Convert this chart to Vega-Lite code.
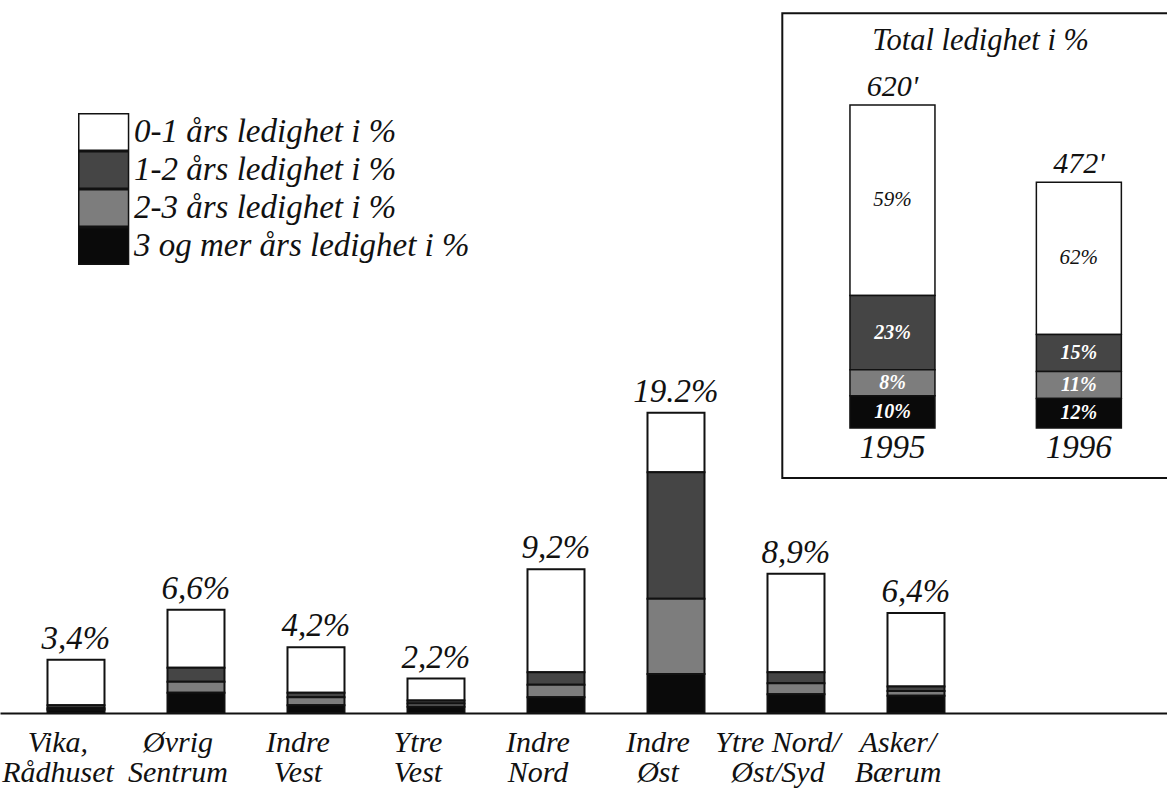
{
  "$schema": "https://vega.github.io/schema/vega-lite/v6.json",
  "autosize": {"type": "none"},
  "width": 1167,
  "height": 713,
  "padding": {"left": 0, "top": 0, "right": 0, "bottom": 86},
  "background": "white",
  "config": {
    "view": {"stroke": null},
    "font": "Liberation Serif",
    "text": {"font": "Liberation Serif", "fontStyle": "italic", "color": "#111"}
  },
  "datasets": {
    "hoved": [
      {"omrade": "Vika,|Rådhuset", "kategori": "0-1 års ledighet i %", "verdi": 2.9},
      {"omrade": "Vika,|Rådhuset", "kategori": "1-2 års ledighet i %", "verdi": 0.2},
      {"omrade": "Vika,|Rådhuset", "kategori": "2-3 års ledighet i %", "verdi": 0.1},
      {"omrade": "Vika,|Rådhuset", "kategori": "3 og mer års ledighet i %", "verdi": 0.2},
      {"omrade": "Øvrig|Sentrum", "kategori": "0-1 års ledighet i %", "verdi": 3.7},
      {"omrade": "Øvrig|Sentrum", "kategori": "1-2 års ledighet i %", "verdi": 0.9},
      {"omrade": "Øvrig|Sentrum", "kategori": "2-3 års ledighet i %", "verdi": 0.7},
      {"omrade": "Øvrig|Sentrum", "kategori": "3 og mer års ledighet i %", "verdi": 1.3},
      {"omrade": "Indre|Vest", "kategori": "0-1 års ledighet i %", "verdi": 2.9},
      {"omrade": "Indre|Vest", "kategori": "1-2 års ledighet i %", "verdi": 0.3},
      {"omrade": "Indre|Vest", "kategori": "2-3 års ledighet i %", "verdi": 0.5},
      {"omrade": "Indre|Vest", "kategori": "3 og mer års ledighet i %", "verdi": 0.5},
      {"omrade": "Ytre|Vest", "kategori": "0-1 års ledighet i %", "verdi": 1.4},
      {"omrade": "Ytre|Vest", "kategori": "1-2 års ledighet i %", "verdi": 0.2},
      {"omrade": "Ytre|Vest", "kategori": "2-3 års ledighet i %", "verdi": 0.2},
      {"omrade": "Ytre|Vest", "kategori": "3 og mer års ledighet i %", "verdi": 0.4},
      {"omrade": "Indre|Nord", "kategori": "0-1 års ledighet i %", "verdi": 6.6},
      {"omrade": "Indre|Nord", "kategori": "1-2 års ledighet i %", "verdi": 0.8},
      {"omrade": "Indre|Nord", "kategori": "2-3 års ledighet i %", "verdi": 0.8},
      {"omrade": "Indre|Nord", "kategori": "3 og mer års ledighet i %", "verdi": 1.0},
      {"omrade": "Indre|Øst", "kategori": "0-1 års ledighet i %", "verdi": 3.8},
      {"omrade": "Indre|Øst", "kategori": "1-2 års ledighet i %", "verdi": 8.1},
      {"omrade": "Indre|Øst", "kategori": "2-3 års ledighet i %", "verdi": 4.8},
      {"omrade": "Indre|Øst", "kategori": "3 og mer års ledighet i %", "verdi": 2.5},
      {"omrade": "Ytre Nord/|Øst/Syd", "kategori": "0-1 års ledighet i %", "verdi": 6.3},
      {"omrade": "Ytre Nord/|Øst/Syd", "kategori": "1-2 års ledighet i %", "verdi": 0.7},
      {"omrade": "Ytre Nord/|Øst/Syd", "kategori": "2-3 års ledighet i %", "verdi": 0.7},
      {"omrade": "Ytre Nord/|Øst/Syd", "kategori": "3 og mer års ledighet i %", "verdi": 1.2},
      {"omrade": "Asker/|Bærum", "kategori": "0-1 års ledighet i %", "verdi": 4.7},
      {"omrade": "Asker/|Bærum", "kategori": "1-2 års ledighet i %", "verdi": 0.3},
      {"omrade": "Asker/|Bærum", "kategori": "2-3 års ledighet i %", "verdi": 0.3},
      {"omrade": "Asker/|Bærum", "kategori": "3 og mer års ledighet i %", "verdi": 1.1}
    ],
    "totaler": [
      {"omrade": "Vika,|Rådhuset", "total": 3.4, "etikett": "3,4%"},
      {"omrade": "Øvrig|Sentrum", "total": 6.6, "etikett": "6,6%"},
      {"omrade": "Indre|Vest", "total": 4.2, "etikett": "4,2%"},
      {"omrade": "Ytre|Vest", "total": 2.2, "etikett": "2,2%"},
      {"omrade": "Indre|Nord", "total": 9.2, "etikett": "9,2%"},
      {"omrade": "Indre|Øst", "total": 19.2, "etikett": "19.2%"},
      {"omrade": "Ytre Nord/|Øst/Syd", "total": 8.9, "etikett": "8,9%"},
      {"omrade": "Asker/|Bærum", "total": 6.4, "etikett": "6,4%"}
    ],
    "innfelt": [
      {"aar": 1995, "kategori": "0-1 års ledighet i %", "andel": "59%", "antall": 365.8},
      {"aar": 1995, "kategori": "1-2 års ledighet i %", "andel": "23%", "antall": 142.6},
      {"aar": 1995, "kategori": "2-3 års ledighet i %", "andel": "8%", "antall": 49.6},
      {"aar": 1995, "kategori": "3 og mer års ledighet i %", "andel": "10%", "antall": 62.0},
      {"aar": 1996, "kategori": "0-1 års ledighet i %", "andel": "62%", "antall": 292.6},
      {"aar": 1996, "kategori": "1-2 års ledighet i %", "andel": "15%", "antall": 70.8},
      {"aar": 1996, "kategori": "2-3 års ledighet i %", "andel": "11%", "antall": 51.9},
      {"aar": 1996, "kategori": "3 og mer års ledighet i %", "andel": "12%", "antall": 56.6}
    ],
    "innfelt_tot": [
      {"aar": 1995, "total": 620, "etikett": "620'"},
      {"aar": 1996, "total": 472, "etikett": "472'"}
    ]
  },
  "layer": [
    {
      "layer": [
        {
          "data": {"name": "hoved"},
          "mark": {"type": "bar", "width": 57, "stroke": "#111", "strokeWidth": 2},
          "encoding": {
            "x": {
              "field": "omrade", "type": "nominal",
              "scale": {
                "domain": ["Vika,|Rådhuset", "Øvrig|Sentrum", "Indre|Vest", "Ytre|Vest", "Indre|Nord", "Indre|Øst", "Ytre Nord/|Øst/Syd", "Asker/|Bærum"],
                "paddingInner": 0.275, "paddingOuter": 1, "align": 0.1354
              },
              "axis": {
                "title": null, "labelAngle": 0, "ticks": false, "grid": false,
                "domain": true, "domainColor": "#111", "domainWidth": 2,
                "labelExpr": "split(datum.label, '|')",
                "labelFont": "Liberation Serif", "labelFontStyle": "italic", "labelFontSize": 30,
                "labelLineHeight": 30, "labelColor": "#111", "labelPadding": 14,
                "labelOffset": -18, "labelLimit": 0, "labelOverlap": false, "labelBound": false, "labelFlush": false
              }
            },
            "y": {
              "field": "verdi", "type": "quantitative", "aggregate": "sum", "stack": "zero",
              "scale": {"domain": [0, 45.6], "nice": false, "zero": false},
              "axis": null
            },
            "color": {
              "field": "kategori", "type": "nominal",
              "scale": {
                "domain": ["0-1 års ledighet i %", "1-2 års ledighet i %", "2-3 års ledighet i %", "3 og mer års ledighet i %"],
                "range": ["#ffffff", "#454545", "#7d7d7d", "#0a0a0a"]
              },
              "legend": {
                "orient": "none", "legendX": 77, "legendY": 113, "title": null,
                "symbolType": "M-0.96,-0.96H1.66V0.96H-0.96Z", "symbolSize": 1444,
                "symbolStrokeColor": "#111", "symbolStrokeWidth": 1.5,
                "labelFont": "Liberation Serif", "labelFontStyle": "italic", "labelFontSize": 33,
                "labelColor": "#111", "rowPadding": 0, "clipHeight": 38, "labelOffset": 17, "padding": 0, "labelLimit": 0
              }
            },
            "order": {"field": "kategori", "sort": "descending"}
          }
        },
        {
          "data": {"name": "totaler"},
          "mark": {"type": "text", "baseline": "alphabetic", "dy": -11, "fontSize": 33},
          "encoding": {
            "x": {"field": "omrade", "type": "nominal"},
            "y": {"field": "total", "type": "quantitative"},
            "text": {"field": "etikett", "type": "nominal"}
          }
        }
      ]
    },
    {
      "layer": [
        {
          "data": {"values": [{}]},
          "mark": {"type": "rect", "fill": "transparent", "stroke": "#111", "strokeWidth": 2},
          "encoding": {
            "x": {"datum": 1994.409, "type": "quantitative", "scale": {"domain": [1990.239, 1996.446], "nice": false, "zero": false}, "axis": null},
            "x2": {"datum": 1996.7},
            "y": {"datum": -96, "type": "quantitative", "scale": {"domain": [-547, 821.5], "nice": false, "zero": false}, "axis": null},
            "y2": {"datum": 796}
          }
        },
        {
          "data": {"name": "innfelt"},
          "mark": {"type": "bar", "width": 85, "stroke": "#111", "strokeWidth": 1.5},
          "encoding": {
            "x": {"field": "aar", "type": "quantitative"},
            "y": {"field": "antall", "type": "quantitative", "stack": "zero"},
            "color": {"field": "kategori", "type": "nominal"},
            "order": {"field": "kategori", "sort": "descending"}
          }
        },
        {
          "data": {"name": "innfelt"},
          "transform": [
            {"stack": "antall", "groupby": ["aar"], "sort": [{"field": "kategori", "order": "descending"}], "as": ["y0", "y1"]},
            {"calculate": "(datum.y0 + datum.y1) / 2", "as": "ymid"},
            {"filter": "datum.kategori === '0-1 års ledighet i %'"}
          ],
          "mark": {"type": "text", "baseline": "middle", "fontSize": 21},
          "encoding": {
            "x": {"field": "aar", "type": "quantitative"},
            "y": {"field": "ymid", "type": "quantitative"},
            "text": {"field": "andel", "type": "nominal"}
          }
        },
        {
          "data": {"name": "innfelt"},
          "transform": [
            {"stack": "antall", "groupby": ["aar"], "sort": [{"field": "kategori", "order": "descending"}], "as": ["y0", "y1"]},
            {"calculate": "(datum.y0 + datum.y1) / 2", "as": "ymid"},
            {"filter": "datum.kategori !== '0-1 års ledighet i %'"}
          ],
          "mark": {"type": "text", "baseline": "middle", "fontSize": 20, "fontWeight": "bold", "color": "#ffffff"},
          "encoding": {
            "x": {"field": "aar", "type": "quantitative"},
            "y": {"field": "ymid", "type": "quantitative"},
            "text": {"field": "andel", "type": "nominal"}
          }
        },
        {
          "data": {"name": "innfelt_tot"},
          "mark": {"type": "text", "baseline": "alphabetic", "dy": -9, "fontSize": 30},
          "encoding": {
            "x": {"field": "aar", "type": "quantitative"},
            "y": {"field": "total", "type": "quantitative"},
            "text": {"field": "etikett", "type": "nominal"}
          }
        },
        {
          "data": {"name": "innfelt_tot"},
          "mark": {"type": "text", "baseline": "alphabetic", "dy": 30, "fontSize": 33},
          "encoding": {
            "x": {"field": "aar", "type": "quantitative"},
            "y": {"datum": 0, "type": "quantitative"},
            "text": {"field": "aar", "type": "nominal"}
          }
        },
        {
          "data": {"values": [{}]},
          "mark": {"type": "text", "baseline": "alphabetic", "fontSize": 30.5},
          "encoding": {
            "x": {"datum": 1995.473, "type": "quantitative"},
            "y": {"datum": 725.5, "type": "quantitative"},
            "text": {"value": "Total ledighet i %"}
          }
        }
      ]
    }
  ],
  "resolve": {"scale": {"x": "independent", "y": "independent"}}
}
